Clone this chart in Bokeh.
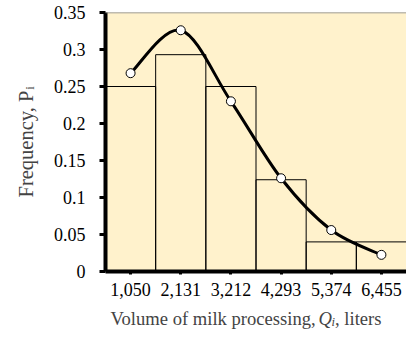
import numpy as np
from bokeh.plotting import figure
from bokeh.layouts import row, column
from bokeh.models import Range1d, FixedTicker, Label, Span
from bokeh.embed import file_html
from bokeh.resources import INLINE

# ---- data ----
categories = ["1,050", "2,131", "3,212", "4,293", "5,374", "6,455"]
bar_values = [0.25, 0.293, 0.25, 0.124, 0.040, 0.040]
point_values = [0.268, 0.326, 0.230, 0.126, 0.056, 0.0225]
y_ticks = [0, 0.05, 0.1, 0.15, 0.2, 0.25, 0.3, 0.35]
y_tick_labels = ["0", "0.05", "0.1", "0.15", "0.2", "0.25", "0.3", "0.35"]
x_title = ["Volume of milk processing,", "Q", "i", ", liters"]
y_title = ["Frequency, P", "i"]

FONT = "Liberation Serif"
FS = "18px"

W, H = 406, 340
YW = 45            # width of the y-title strip
H1 = 305           # height of the main chart row
FRAME_TOP, FRAME_BOTTOM = 12, 271

p = figure(width=W - YW, height=H1, output_backend="svg", toolbar_location=None,
           x_range=Range1d(-0.5, 5.5), y_range=Range1d(0, 0.35),
           min_border_left=105 - YW, min_border_right=0, min_border_top=FRAME_TOP,
           min_border_bottom=H1 - FRAME_BOTTOM)
p.background_fill_color = "#FFF2CC"
p.border_fill_color = "white"
p.outline_line_color = None
p.xgrid.visible = False
p.ygrid.visible = False

xs = list(range(len(categories)))

p.quad(left=[x - 0.5 for x in xs], right=[x + 0.5 for x in xs],
       bottom=0, top=bar_values, fill_color=None, line_color="black", line_width=1)

P = np.array([xs, point_values], dtype=float).T
ext = np.vstack([P[0], P, P[-1]])
x0, y0, x1, y1, cx0, cy0, cx1, cy1 = [], [], [], [], [], [], [], []
for i in range(len(P) - 1):
    a, b = ext[i + 1], ext[i + 2]
    prev, nxt = ext[i], ext[i + 3]
    c1 = a + (b - prev) / 6.0
    c2 = b - (nxt - a) / 6.0
    x0.append(a[0]); y0.append(a[1]); x1.append(b[0]); y1.append(b[1])
    cx0.append(c1[0]); cy0.append(c1[1]); cx1.append(c2[0]); cy1.append(c2[1])
p.bezier(x0=x0, y0=y0, x1=x1, y1=y1, cx0=cx0, cy0=cy0, cx1=cx1, cy1=cy1,
         line_color="black", line_width=3)

p.scatter(xs, point_values, size=9, fill_color="white", line_color="black", line_width=1)

p.add_layout(Span(location=0.35, dimension="width", line_color="#7f7f7f", line_width=1.5))

for ax in (p.xaxis[0], p.yaxis[0]):
    ax.axis_line_width = 4
    ax.axis_line_color = "black"
    ax.major_tick_line_width = 3
    ax.major_tick_line_color = "black"
    ax.minor_tick_line_color = None
    ax.major_tick_in = 0
    ax.major_label_text_font = FONT
    ax.major_label_text_font_size = FS
    ax.major_label_text_color = "black"

p.xaxis.ticker = FixedTicker(ticks=xs)
p.xaxis.major_label_overrides = {x: c for x, c in zip(xs, categories)}
p.xaxis.major_tick_out = 3
p.xaxis.major_label_standoff = 8

p.yaxis.ticker = FixedTicker(ticks=y_ticks)
p.yaxis.major_label_overrides = {t: l for t, l in zip(y_ticks, y_tick_labels)}
p.yaxis.major_tick_out = 6
p.yaxis.major_label_standoff = 14


def text_strip(w, h):
    f = figure(width=w, height=h, output_backend="svg", toolbar_location=None,
               x_range=Range1d(0, w), y_range=Range1d(h, 0),
               x_axis_location=None, y_axis_location=None,
               min_border=0, outline_line_color=None)
    f.xgrid.visible = False
    f.ygrid.visible = False
    f.background_fill_color = "white"
    f.border_fill_color = "white"
    return f


def lab(f, text, x, y, size=FS, style="normal", align="left", angle=0.0):
    f.add_layout(Label(x=x, y=y, text=text, text_align=align, text_baseline="alphabetic",
                       angle=angle, text_font=FONT, text_font_size=size,
                       text_font_style=style))


# y title strip (coordinates = page pixels)
fy = text_strip(YW, H1)
lab(fy, y_title[0], 25, 92, size="20.5px", align="right", angle=np.pi / 2)
lab(fy, y_title[1], 29, 91, size="13px", align="left", angle=np.pi / 2)

# x title strip (y measured from top of strip)
H2 = H - H1
fx = text_strip(W, H2)
b = 318 - H1
lab(fx, x_title[0], 110, b, size="18.6px")
lab(fx, x_title[1], 318, b, size="18.6px", style="italic")
lab(fx, x_title[2], 331, b + 3, size="12.5px", style="italic")
lab(fx, x_title[3], 334.5, b, size="18.6px")

layout = column(row(fy, p, spacing=0), fx, spacing=0)
open("out.html", "w").write(file_html(layout, INLINE))
